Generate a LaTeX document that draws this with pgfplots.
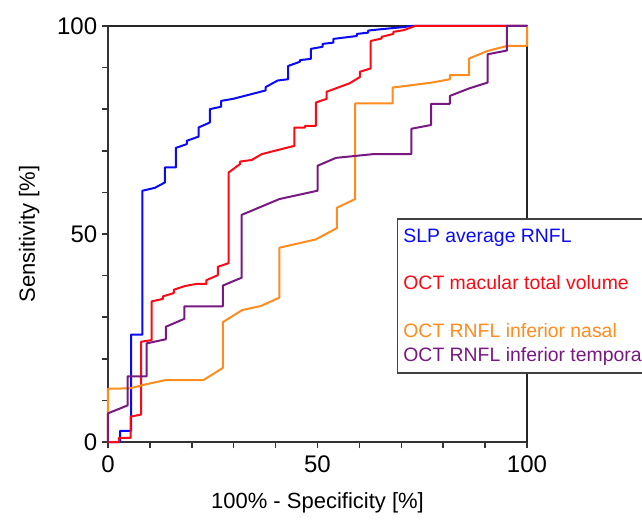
\documentclass[border=0pt]{standalone}
\usepackage{fontspec}
\setmainfont{Liberation Sans}
\usepackage{pgfplots}
\pgfplotsset{compat=1.18}
\definecolor{cblue}{RGB}{10,10,245}
\definecolor{cred}{RGB}{250,10,20}
\definecolor{corange}{RGB}{255,140,30}
\definecolor{cpurple}{RGB}{120,25,130}
\begin{document}
\begin{tikzpicture}
\begin{axis}[name=ax, at={(0,0)}, anchor=south west,
  scale only axis, width=209.5pt, height=208pt,
  xmin=0, xmax=100, ymin=0, ymax=100,
  xtick={0,50,100}, ytick={0,50,100}, minor tick num=4,
  tick align=outside, xtick pos=bottom, ytick pos=left,
  major tick length=3.2pt, minor tick length=3.2pt,
  every tick/.style={black!80, line width=0.75pt},
  axis line style={line width=0.6pt, black!85},
  ticklabel style={font=\fontsize{12}{14}\selectfont},
  yticklabel style={inner sep=2pt},
  /pgf/number format/assume math mode=true,
  xlabel={100\% - Specificity [\%]},
  ylabel={Sensitivity [\%]},
  label style={font=\fontsize{11}{13}\selectfont},
  xlabel style={at={(axis description cs:0.5,-0.146)}, anchor=center},
  ylabel style={at={(axis description cs:-0.188,0.5)}, anchor=center},
  clip=false,
  every axis plot/.append style={line width=1pt, line join=round}]
\draw[line width=0.8pt, black!80] (rel axis cs:0,1) -- (rel axis cs:0,0) -- (rel axis cs:1,0);
% SLP average RNFL
\addplot[cblue] coordinates {(0,0)(2.9,0)(2.9,2.7)(5.5,2.7)(5.5,25.8)(8.2,25.8)(8.2,60.4)(11.2,61.1)(13.6,62.4)(13.6,66.0)(16.2,66.0)(16.2,70.7)(18.8,71.6)(18.8,72.4)(21.6,73.4)(21.6,75.6)(24.3,76.8)(24.3,80.0)(27.0,80.6)(27.0,82.0)(29.9,82.5)(37.6,84.5)(37.6,85.3)(40.5,86.9)(43.0,87.2)(43.0,90.4)(45.8,91.4)(45.8,91.8)(48.4,92.1)(48.4,94.5)(51.2,95.0)(51.2,95.7)(53.8,96.0)(53.8,96.9)(59.4,97.6)(59.4,98.1)(62.1,98.4)(62.1,98.9)(64.9,99.2)(70.1,99.7)(72.5,100)(100,100)};
% OCT macular total volume
\addplot[cred] coordinates {(0,0)(2.6,0)(2.6,1.0)(5.4,1.0)(5.4,6.1)(7.9,6.6)(7.9,24.1)(10.4,24.5)(10.4,33.8)(13.1,34.4)(13.1,35.0)(15.7,35.8)(15.7,36.6)(18.4,37.5)(21.1,38.0)(23.5,38.0)(23.5,38.9)(26.2,40.1)(26.2,42.1)(28.8,43.0)(28.8,64.8)(31.5,66.8)(31.5,67.4)(34.3,67.8)(36.7,69.2)(44.5,71.2)(44.5,75.6)(47.0,75.6)(47.0,76.0)(49.6,76.0)(49.6,81.6)(52.2,82.5)(52.2,84.2)(57.6,86.2)(60.1,87.7)(60.1,89.0)(62.7,89.8)(62.7,96.4)(65.3,97.0)(65.3,97.4)(68.1,98.1)(68.1,98.6)(70.6,99.0)(73.3,100)(100,100)};
% OCT RNFL inferior nasal
\addplot[corange] coordinates {(0,0)(0,12.8)(5.2,12.9)(9.2,13.9)(13.8,14.9)(22.8,14.9)(27.4,17.8)(27.4,28.8)(32.0,31.7)(36.5,32.7)(40.9,34.7)(40.9,46.7)(49.6,48.7)(54.6,51.4)(54.6,56.3)(59.0,58.4)(59.0,81.4)(67.9,81.4)(67.9,85.2)(77.3,86.4)(81.6,87.2)(81.6,88.2)(86.2,88.2)(86.2,92.2)(90.6,94.0)(95.2,95.2)(100,95.2)(100,100)};
% OCT RNFL inferior temporal
\addplot[cpurple] coordinates {(0,0)(0,6.9)(4.7,8.8)(4.7,15.8)(9.2,15.8)(9.2,23.7)(13.8,24.7)(13.8,27.7)(18.2,29.6)(18.2,32.6)(27.4,32.6)(27.4,37.6)(31.9,39.5)(31.9,54.6)(40.9,58.4)(50.0,60.4)(50.0,66.4)(54.4,68.3)(63.3,69.2)(72.4,69.2)(72.4,75.3)(77.1,76.2)(77.1,81.3)(81.6,81.3)(81.6,83.2)(86.2,85.0)(90.6,86.4)(90.6,93.2)(95.2,94.1)(95.2,100)(100,100)};
\end{axis}
\filldraw[fill=white, draw=black!75, line width=0.6pt] (144.85pt,34.5pt) rectangle (300pt,111.5pt);
\begin{scope}[every node/.style={anchor=base west, inner sep=0pt, font=\fontsize{9.7}{11.6}\selectfont}]
\node[text=cblue] at (147.5pt,99.65pt) {SLP average RNFL};
\node[text=cred] at (147.5pt,76pt) {OCT macular total volume};
\node[text=corange] at (147.5pt,52pt) {OCT RNFL inferior nasal};
\node[text=cpurple] at (147.5pt,40.15pt) {OCT RNFL inferior temporal};
\end{scope}
\pgfresetboundingbox
\path[use as bounding box] (-54pt,-38.5pt) rectangle (267pt,221pt);
\end{tikzpicture}
\end{document}
